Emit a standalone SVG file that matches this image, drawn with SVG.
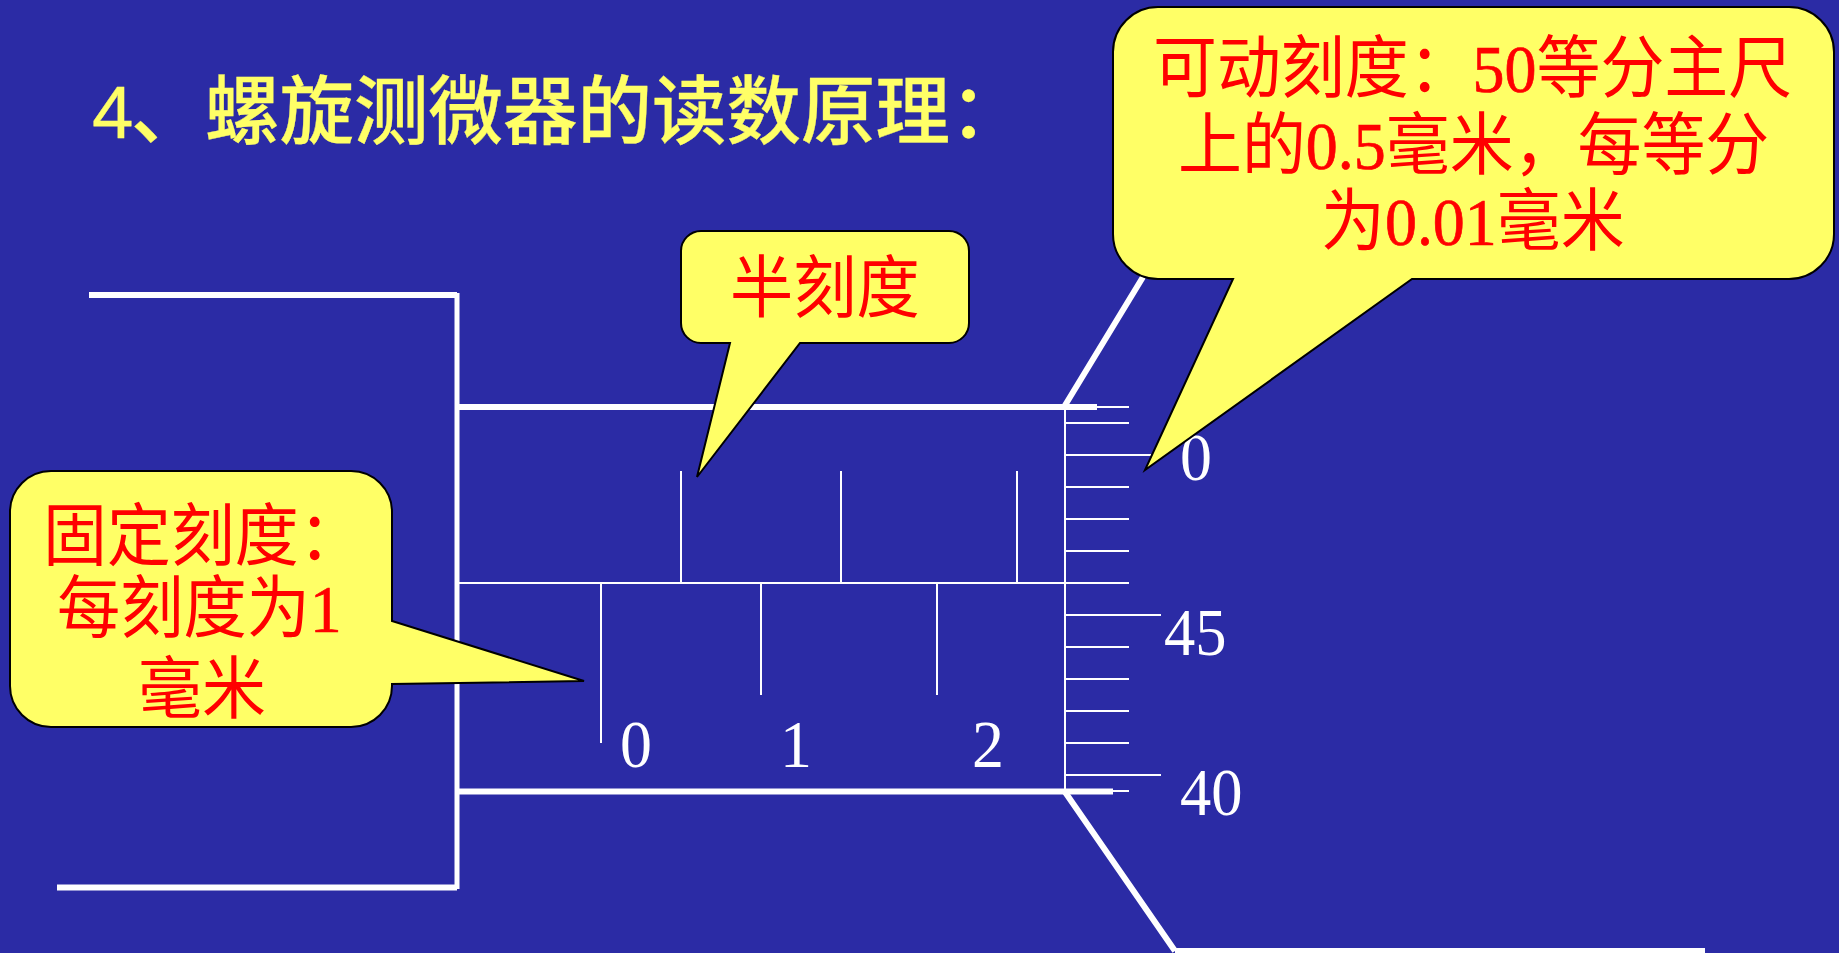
<svg xmlns="http://www.w3.org/2000/svg" width="1839" height="953" viewBox="0 0 1839 953">
<style>
.heavy{stroke:#fff;stroke-width:6;fill:none}
.mid{stroke:#fff;stroke-width:5;fill:none}
.diag{stroke:#fff;stroke-width:6;fill:none}
.thin{stroke:#fff;stroke-width:2;fill:none}
.call{fill:#ffff66;stroke:#000;stroke-width:2;stroke-linejoin:miter}
.num{font-family:"Liberation Serif","Noto Sans CJK SC",serif;font-size:68px;fill:#fff}
.red{font-family:"Liberation Serif","Noto Sans CJK SC",serif;font-size:68px;fill:#f00}
.semi{stroke:#f00;stroke-width:.7}
.title{font-family:"Liberation Sans","Noto Sans CJK SC",sans-serif;font-size:74.5px;font-weight:500;fill:#ffff66;stroke:#ffff66;stroke-width:.3}
</style>
<rect width="1839" height="953" fill="#2b2ba5"/>
<text id="title" class="title" y="138"><tspan x="92">4</tspan><tspan x="131">、</tspan><tspan x="205">螺旋测微器的读数原理</tspan><tspan x="950">：</tspan></text>
<g id="connectors">
<path class="heavy" d="M89 295H457M57 887.500H457"/>
<path class="mid" d="M457 293V889"/>
<path class="heavy" d="M459 407H1097M459 791.500H1113"/>
<path class="diag" d="M1064 407L1143 277M1065 792L1175 951"/>
<path class="heavy" d="M1175 951H1705"/>
<path class="thin" d="M1065 407V792M459 583H1129M681 471V583M841 471V583M1017 471V583M601 584V743M761 584V695M937 584V695"/>
<path class="thin" d="M1097 407H1129M1065 423H1129M1065 455H1151M1065 487H1129M1065 519H1129M1065 551H1129M1065 615H1161M1065 647H1129M1065 679H1129M1065 711H1129M1065 743H1129M1065 775H1161M1113 791H1129"/>
</g>
<g id="scale-labels">
<text class="num" transform="translate(620,767) scale(.94,1)">0</text>
<text class="num" transform="translate(780,767) scale(.94,1)">1</text>
<text class="num" transform="translate(972,767) scale(.94,1)">2</text>
<text class="num" transform="translate(1180,480) scale(.94,1)">0</text>
<text class="num" transform="translate(1164,655) scale(.92,1)">45</text>
<text class="num" transform="translate(1180,815) scale(.92,1)">40</text>
</g>
<g id="callout-half">
<path class="call" d="M701 231H949A20 20 0 0 1 969 251V323A20 20 0 0 1 949 343H800L697 477L730 343H701A20 20 0 0 1 681 323V251A20 20 0 0 1 701 231Z"/>
<text class="red" transform="translate(730,312) scale(.93,1)">半刻度</text>
</g>
<g id="callout-moving">
<path class="call" d="M1158 7H1789A45 45 0 0 1 1834 52V234A45 45 0 0 1 1789 279H1412L1145 470L1233 279H1158A45 45 0 0 1 1113 234V52A45 45 0 0 1 1158 7Z"/>
<text class="red" transform="translate(1153,92) scale(.94,1)">可动刻度：<tspan class="semi" stroke-width="1.2">50</tspan>等分主尺</text>
<text class="red" transform="translate(1178,169) scale(.94,1)">上的<tspan class="semi">0.5</tspan>毫米，每等分</text>
<text class="red" transform="translate(1321,245) scale(.94,1)">为<tspan class="semi">0.01</tspan>毫米</text>
</g>
<g id="callout-fixed">
<path class="call" d="M51 471H351A41 41 0 0 1 392 512V621L584 681L392 684V686A41 41 0 0 1 351 727H51A41 41 0 0 1 10 686V512A41 41 0 0 1 51 471Z"/>
<text class="red" transform="translate(43,560) scale(.94,1)">固定刻度：</text>
<text class="red" transform="translate(57,632) scale(.93,1)">每刻度为<tspan class="semi">1</tspan></text>
<text class="red" transform="translate(138,713) scale(.94,1)">毫米</text>
</g>
</svg>
